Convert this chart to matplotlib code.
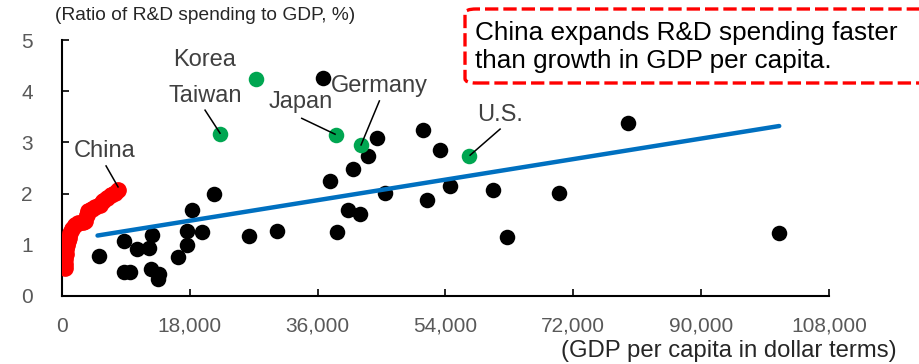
import numpy as np
import matplotlib.pyplot as plt
from matplotlib.patches import FancyBboxPatch

plt.rcParams['font.family'] = ['Liberation Sans', 'DejaVu Sans']

# China (red trail), GDP per capita in dollars vs R&D / GDP (%)
china_gdp = [400, 420, 450, 520, 600, 700, 850, 1000, 1150, 1400, 1800, 2300,
             3000, 3300, 3500, 3700, 4200, 4700, 5300, 5700, 6300, 6900, 7500, 7900]
china_rd = [0.55, 0.62, 0.72, 0.82, 0.92, 1.00, 1.07, 1.13, 1.22, 1.31, 1.38, 1.42,
            1.44, 1.47, 1.58, 1.66, 1.70, 1.73, 1.78, 1.85, 1.91, 1.97, 2.02, 2.07]

# other countries (black)
other_gdp = [5170, 8730, 10520, 12250, 12630, 8730, 9570, 12490, 13700, 13560,
             16290, 17560, 17560, 18260, 19670, 21450, 26370, 30310, 36800, 44310,
             43130, 40930, 37780, 45520, 40230, 41960, 38680, 50790, 53270, 54680,
             51400, 60640, 62660, 70000, 79740, 100900]
other_rd = [0.78, 1.07, 0.92, 0.94, 1.19, 0.47, 0.47, 0.53, 0.43, 0.33,
            0.77, 0.99, 1.26, 1.68, 1.24, 1.99, 1.18, 1.27, 4.26, 3.08,
            2.74, 2.48, 2.24, 2.02, 1.67, 1.60, 1.25, 3.25, 2.86, 2.15,
            1.87, 2.07, 1.16, 2.02, 3.38, 1.22]

# highlighted economies (green)
hl_names = ['Korea', 'Taiwan', 'Japan', 'Germany', 'U.S.']
hl_gdp = [27320, 22250, 38590, 42060, 57310]
hl_rd = [4.24, 3.16, 3.14, 2.94, 2.74]

# trend line end points
trend_gdp = [5000, 101000]
trend_rd = [1.18, 3.32]

fig = plt.figure(figsize=(9.19, 3.64), dpi=100)
ax = fig.add_axes([0.0675, 0.187, 0.8345, 0.703])

ax.scatter(other_gdp, other_rd, s=125, color='black', zorder=3, linewidths=0)
ax.plot(trend_gdp, trend_rd, color='#0070C0', lw=3.2, zorder=4, solid_capstyle='round')
ax.scatter(hl_gdp, hl_rd, s=125, color='#00A651', zorder=5, linewidths=0)
ax.plot(china_gdp, china_rd, color='red', lw=10.5, marker='o', ms=11,
        solid_capstyle='round', solid_joinstyle='round', zorder=5)

lab_col = '#404040'
# label text position, leader start, leader end
labels = [
    ('China', (6060, 2.89), (6200, 2.54), (7890, 2.13)),
    ('Korea', (20140, 4.65), None, None),
    ('Taiwan', (20140, 3.96), (20140, 3.63), (22250, 3.18)),
    ('Japan', (33660, 3.83), (33760, 3.47), (38450, 3.16)),
    ('Germany', (44650, 4.16), (44690, 3.81), (42110, 2.95)),
    ('U.S.', (61690, 3.59), (61690, 3.26), (57470, 2.75)),
]
for name, pos, a, b in labels:
    ax.text(pos[0], pos[1], name, fontsize=17, color=lab_col,
            ha='center', va='center_baseline', zorder=6)
    if a is not None:
        ax.plot([a[0], b[0]], [a[1], b[1]], color='black', lw=1.1, zorder=6)

ax.set_xlim(0, 108000)
ax.set_ylim(0, 5)
ax.set_xticks(np.arange(0, 108001, 18000))
ax.set_xticklabels(['0', '18,000', '36,000', '54,000', '72,000', '90,000', '108,000'])
ax.set_yticks(range(6))
ax.spines['top'].set_visible(False)
ax.spines['right'].set_visible(False)
for s in ['left', 'bottom']:
    ax.spines[s].set_linewidth(1.5)
ax.tick_params(axis='both', direction='in', length=5, width=1.2,
               labelsize=15, labelcolor='#595959')
ax.tick_params(axis='y', pad=21)
ax.tick_params(axis='x', pad=15)

fig.text(55 / 919, 1 - 16 / 364, '(Ratio of R&D spending to GDP, %)',
         fontsize=13.8, color='#262626', ha='left', va='center')
fig.text(897 / 919, 1 - 351 / 364, '(GDP per capita in dollar terms)',
         fontsize=17.2, color='#262626', ha='right', va='center')

# red dashed callout box
box = FancyBboxPatch((465 / 919, 1 - 83 / 364), 480 / 919, 74 / 364,
                     boxstyle='round,pad=0,rounding_size=0.012',
                     transform=fig.transFigure, fill=False, edgecolor='red',
                     lw=2.4, linestyle=(0, (4.0, 1.5)), clip_on=False)
fig.add_artist(box)
fig.text(475 / 919, 1 - 47 / 364,
         'China expands R&D spending faster\nthan growth in GDP per capita.',
         fontsize=18.8, color='black', ha='left', va='center', linespacing=1.22)

fig.savefig('out.png', dpi=100)
